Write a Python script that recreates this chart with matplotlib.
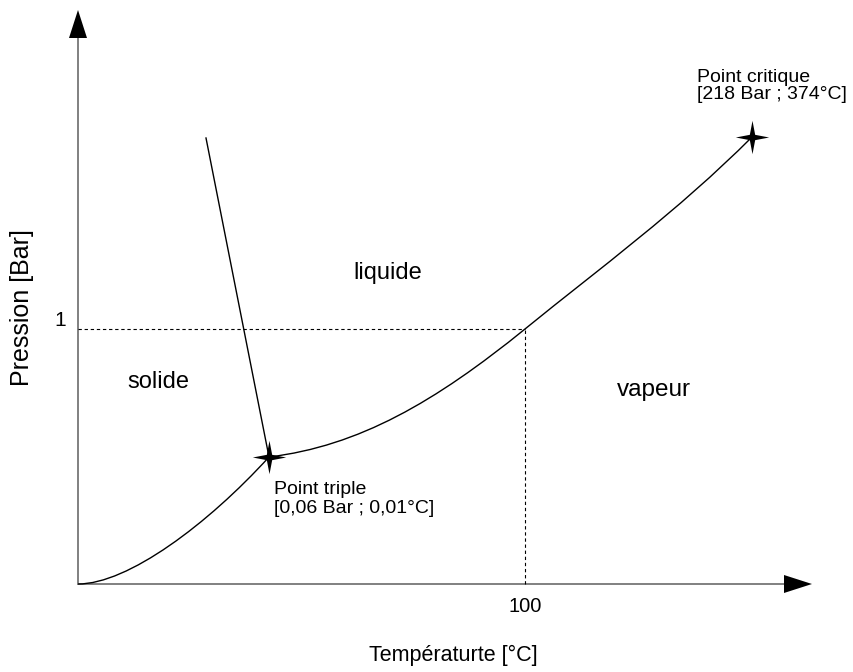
import matplotlib.pyplot as plt
from matplotlib.path import Path
from matplotlib.patches import PathPatch

plt.rcParams["font.family"] = ["Liberation Sans", "DejaVu Sans"]

# schematic coordinates (arbitrary units, origin at the axes corner)
# each boundary is a cubic Bezier: start, control, control, end
subl_pts = [(0, 0), (50, 0), (130, 60), (191, 127)]
vap_pts = [(191, 127), (281, 138), (357, 182), (447, 255),
           (522, 316), (599, 372), (674, 447)]
melt_pts = [(128, 446), (191, 127)]

triple = (191, 127)
critical = (674, 447)
one_bar = (447, 255)   # (100 °C, 1 bar)

x_max, y_max = 734, 574

CLR_AXIS = "#808080"


def star_marker():
    # four-pointed star with slightly concave arms
    k = 0.16
    verts = [(0, 1), (k, k), (1, 0), (k, -k), (0, -1),
             (-k, -k), (-1, 0), (-k, k), (0, 1)]
    codes = [Path.MOVETO] + [Path.LINETO] * 7 + [Path.CLOSEPOLY]
    return Path(verts, codes)


def bezier_patch(pts):
    codes = [Path.MOVETO] + [Path.CURVE4] * (len(pts) - 1)
    return PathPatch(Path(pts, codes), facecolor="none",
                     edgecolor="black", lw=1.0)


fig = plt.figure(figsize=(8.54, 6.72), dpi=100)
ax = fig.add_axes([0, 0, 1, 1])
ax.set_xlim(-78, 776)
ax.set_ylim(-88, 584)
ax.axis("off")

# axes with arrows
ax.plot([0, x_max - 28], [0, 0], color=CLR_AXIS, lw=1.4, zorder=1)
ax.plot([0, 0], [0, y_max - 28], color=CLR_AXIS, lw=1.4, zorder=1)
ax.fill([x_max - 28, x_max, x_max - 28], [-9, 0, 9], color="black", lw=0)
ax.fill([-9, 0, 9], [y_max - 28, y_max, y_max - 28], color="black", lw=0)

# reference dashes for 1 bar / 100 °C
ax.plot([0, one_bar[0]], [one_bar[1], one_bar[1]], color="black",
        lw=0.8, ls=(0, (3, 2.5)))
ax.plot([one_bar[0], one_bar[0]], [0, one_bar[1]], color="black",
        lw=0.8, ls=(0, (3, 2.5)))

# phase boundaries
ax.add_patch(bezier_patch(subl_pts))
ax.add_patch(bezier_patch(vap_pts))
ax.plot(*zip(*melt_pts), color="black", lw=1.0)

star = star_marker()
for px, py in (triple, critical):
    ax.plot(px, py, marker=star, markersize=24, color="black",
            markeredgewidth=0, zorder=5)

ax.text(-18, 263, "1", ha="center", va="center", fontsize=15)
ax.text(one_bar[0], -23, "100", ha="center", va="center", fontsize=14.5)

ax.text(-56, 276, "Pression [Bar]", rotation=90, ha="center",
        va="center", fontsize=18)
ax.text(375, -71, "Températurte [°C]", ha="center", va="center",
        fontsize=15.5)

ax.text(310, 311, "liquide", ha="center", va="center", fontsize=17)
ax.text(80, 202, "solide", ha="center", va="center", fontsize=17)
ax.text(576, 194, "vapeur", ha="center", va="center", fontsize=17.5)

ax.text(196, 90, "Point triple", ha="left", va="baseline", fontsize=14)
ax.text(196, 71, "[0,06 Bar ; 0,01°C]", ha="left", va="baseline",
        fontsize=14)
ax.text(619, 502, "Point critique", ha="left", va="baseline",
        fontsize=14)
ax.text(619, 485, "[218 Bar ; 374°C]", ha="left", va="baseline",
        fontsize=14)

fig.savefig("out.png", dpi=100, facecolor="white")
